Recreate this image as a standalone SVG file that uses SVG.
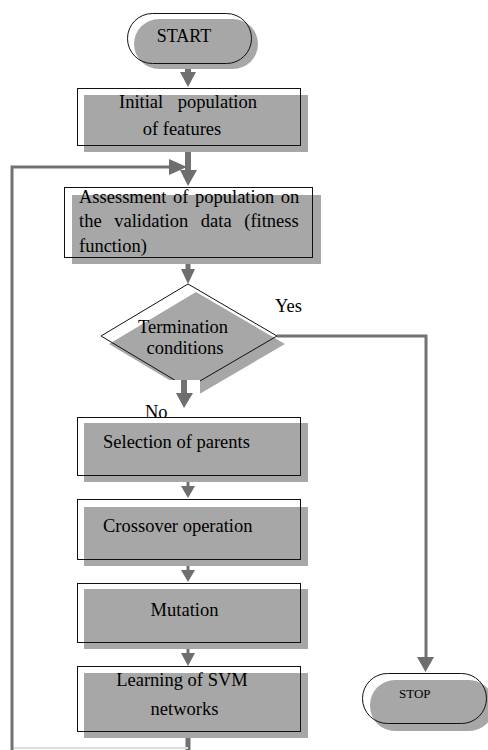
<svg xmlns="http://www.w3.org/2000/svg" width="488" height="750" viewBox="0 0 488 750">
<style>
.bg{fill:#ffffff}
.sh{fill:#a7a7a7;stroke:none}
.ol{fill:none;stroke:#111;stroke-width:1}
.t{font-family:'Liberation Serif','Times New Roman','DejaVu Serif',serif;font-size:18.5px;fill:#000}
.c{text-anchor:middle}
.ln{fill:none;stroke:#727272}
.ah{fill:#6e6e6e;stroke:none}
</style>
<rect class="bg" x="0" y="0" width="488" height="750"/>

<g id="connectors">
  <line class="ln" x1="188" y1="63" x2="188" y2="74" stroke-width="6"/>
  <polygon class="ah" points="180,72 196,72 188,87"/>
  <line class="ln" x1="188" y1="152" x2="188" y2="172" stroke-width="6"/>
  <polygon class="ah" points="180,170 197,170 188,186"/>
  <polyline class="ln" points="188,750 188,737" stroke-width="5"/>
  <line x1="12" y1="748" x2="188" y2="748" stroke="#dedede" stroke-width="2"/>
  <polyline class="ln" points="12,750 12,167 171,167" stroke-width="3"/>
  <polygon class="ah" points="169,159 169,175 187,167"/>
  <line class="ln" x1="188" y1="257" x2="188" y2="272" stroke-width="5"/>
  <polygon class="ah" points="181,269 195,269 188,284"/>
  <polyline class="ln" points="277,336 426,336 426,660" stroke-width="3"/>
  <polygon class="ah" points="417,657 434,657 425.5,672"/>
  <line class="ln" x1="188" y1="475" x2="188" y2="488" stroke-width="3"/>
  <polygon class="ah" points="181,486 195,486 188,498"/>
  <line class="ln" x1="188" y1="559" x2="188" y2="572" stroke-width="3"/>
  <polygon class="ah" points="181,570 195,570 188,582"/>
  <line class="ln" x1="188" y1="642" x2="188" y2="655" stroke-width="3"/>
  <polygon class="ah" points="181,653 195,653 188,666"/>
</g>

<g id="start">
  <rect class="sh" x="134" y="19" width="124" height="50" rx="25"/>
  <rect class="ol" x="127.5" y="13.5" width="124" height="50" rx="25"/>
  <text class="t c" x="184" y="42" style="font-size:18px">START</text>
</g>

<g id="initial">
  <rect class="sh" x="84" y="95" width="224" height="57"/>
  <rect class="ol" x="77.5" y="88.5" width="223" height="57"/>
  <text class="t c" x="188" y="108" word-spacing="10">Initial population</text>
  <text class="t c" x="182" y="135">of features</text>
</g>

<g id="assessment">
  <rect class="sh" x="72" y="195" width="249" height="69"/>
  <rect class="ol" x="64.5" y="187.5" width="248" height="70"/>
  <text class="t" x="79" y="203" word-spacing="2">Assessment of population on</text>
  <text class="t" x="79" y="227" word-spacing="8">the validation data (fitness</text>
  <text class="t" x="79" y="252">function)</text>
</g>

<g id="termination">
  <polygon class="sh" points="196,292 285,344 196,396 109,344"/>
  <polygon class="ol" points="188,284 277,336 188,388 101,336"/>
  <rect class="bg" x="167" y="380" width="33" height="37"/>
  <line class="ln" x1="184" y1="380" x2="184" y2="395" stroke-width="6"/>
  <polygon class="ah" points="176,393 193,393 184,408"/>
  <text class="t c" x="183" y="333">Termination</text>
  <text class="t c" x="185" y="354">conditions</text>
  <text class="t" x="275" y="312">Yes</text>
  <text class="t" x="145" y="418">No</text>
</g>

<g id="selection">
  <rect class="sh" x="84" y="423" width="224" height="59"/>
  <rect class="ol" x="77.5" y="417.5" width="223" height="58"/>
  <text class="t" x="103" y="448">Selection of parents</text>
</g>

<g id="crossover">
  <rect class="sh" x="84" y="507" width="224" height="59"/>
  <rect class="ol" x="77.5" y="499.5" width="223" height="60"/>
  <text class="t" x="103" y="532">Crossover operation</text>
</g>

<g id="mutation">
  <rect class="sh" x="84" y="589" width="224" height="60"/>
  <rect class="ol" x="77.5" y="583.5" width="223" height="59"/>
  <text class="t c" x="184.5" y="616">Mutation</text>
</g>

<g id="learning">
  <rect class="sh" x="84" y="673" width="224" height="65"/>
  <rect class="ol" x="77.5" y="666.5" width="223" height="65"/>
  <text class="t c" x="182" y="686">Learning of SVM</text>
  <text class="t c" x="184.5" y="715">networks</text>
</g>

<g id="stop">
  <rect class="sh" x="370" y="680" width="124" height="51" rx="25"/>
  <rect class="ol" x="362.5" y="673.5" width="124" height="50" rx="25"/>
  <text class="t" x="399" y="698" style="font-size:13px">STOP</text>
</g>
</svg>
